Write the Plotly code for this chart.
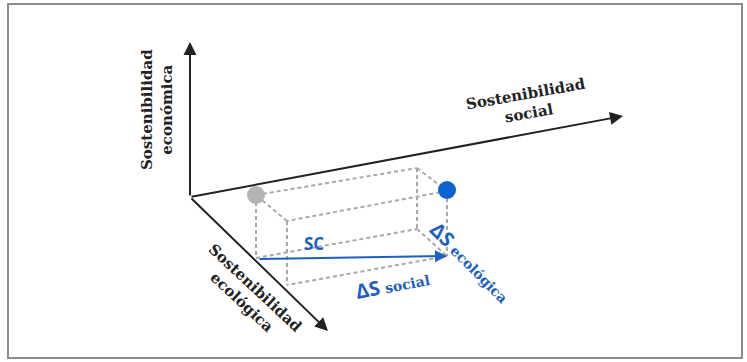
import plotly.graph_objects as go

# diagram space is in pixel units (y grows downward)
W, H = 747, 362

ORIGIN_X, ORIGIN_Y = 190, 197

# tips of the three sustainability axes: económica, social, ecológica
AXIS_TIP_X = [190, 623, 328]
AXIS_TIP_Y = [42, 116, 331]
AXIS_LABELS = ["Sostenibilidad<br>económica",
               "Sostenibilidad<br>social",
               "Sostenibilidad<br>ecológica"]

# box corners: back-left, back-right, front-right, front-left
BOX_X = [256, 417, 447, 287]
BOX_Y_TOP = [195, 168, 191, 221]
BOX_Y_BOTTOM = [258, 229, 256, 285]

# current state (gray) and target state (blue)
POINT_X = [256, 447]
POINT_Y = [195, 190]
POINT_COLORS = ["#b4b4b4", "#0b63cf"]

# sustainability change vector SC
SC_FROM = (258, 259)
SC_TO = (447, 256)

BLUE = "#1d5fc4"
SERIF = "DejaVu Serif"

fig = go.Figure()

# dashed box edges
ex, ey = [], []
def edge(x0, y0, x1, y1):
    ex.extend([x0, x1, None])
    ey.extend([y0, y1, None])

for i in range(4):
    j = (i + 1) % 4
    edge(BOX_X[i], BOX_Y_TOP[i], BOX_X[j], BOX_Y_TOP[j])
    if i != 3:
        edge(BOX_X[i], BOX_Y_BOTTOM[i], BOX_X[j], BOX_Y_BOTTOM[j])
    edge(BOX_X[i], BOX_Y_TOP[i], BOX_X[i], BOX_Y_BOTTOM[i])

fig.add_trace(go.Scatter(
    x=ex, y=ey, mode="lines",
    line=dict(color="#a9a9a9", width=2, dash="4px,3px"),
    hoverinfo="skip", showlegend=False
))

fig.add_trace(go.Scatter(
    x=POINT_X, y=POINT_Y, mode="markers",
    marker=dict(size=18, color=POINT_COLORS),
    hoverinfo="skip", showlegend=False
))

# axes with arrow heads
for tx, ty in zip(AXIS_TIP_X, AXIS_TIP_Y):
    fig.add_annotation(
        x=tx, y=ty, ax=ORIGIN_X, ay=ORIGIN_Y,
        xref="x", yref="y", axref="x", ayref="y",
        text="", showarrow=True, arrowhead=2, arrowsize=1.3,
        arrowwidth=2, arrowcolor="#222222"
    )

# SC vector
fig.add_annotation(
    x=SC_TO[0], y=SC_TO[1], ax=SC_FROM[0], ay=SC_FROM[1],
    xref="x", yref="y", axref="x", ayref="y",
    text="", showarrow=True, arrowhead=2, arrowsize=1.2,
    arrowwidth=2, arrowcolor=BLUE
)

# axis titles
label_font = dict(family=SERIF, size=15, color="#222222")
fig.add_annotation(x=157, y=110, text="<b>%s</b>" % AXIS_LABELS[0],
                   textangle=-90, showarrow=False, font=label_font)
fig.add_annotation(x=527, y=104, text="<b>%s</b>" % AXIS_LABELS[1],
                   textangle=-10, showarrow=False, font=label_font)
fig.add_annotation(x=248, y=295, text="<b>%s</b>" % AXIS_LABELS[2],
                   textangle=43, showarrow=False, font=label_font)

# blue labels
fig.add_annotation(x=314, y=243, text="<b>SC</b>", showarrow=False,
                   font=dict(family="Open Sans", size=17, color=BLUE))
fig.add_annotation(
    x=392, y=284, textangle=-11, showarrow=False,
    text="<b>ΔS</b> <span style='font-family:DejaVu Serif;font-size:14px'><b>social</b></span>",
    font=dict(family="Open Sans", size=20, color=BLUE))
fig.add_annotation(
    x=471, y=262, textangle=45, showarrow=False,
    text="<b>ΔS</b> <span style='font-family:DejaVu Serif;font-size:14px'><b>ecológica</b></span>",
    font=dict(family="Open Sans", size=20, color=BLUE))

# outer frame
fig.add_shape(type="rect", x0=8, y0=4, x1=742, y1=358,
              xref="x", yref="y", line=dict(color="#8c8c8c", width=2))

fig.update_layout(
    width=W, height=H,
    margin=dict(l=0, r=0, t=0, b=0),
    paper_bgcolor="white", plot_bgcolor="white",
    xaxis=dict(range=[0, W], visible=False, fixedrange=True),
    yaxis=dict(range=[H, 0], visible=False, fixedrange=True),
    showlegend=False
)

# drop the browser's default body margin so the figure sits at the page corner
fig.write_html("out.html", config={"displayModeBar": False},
               post_script="document.body.style.margin='0';")
